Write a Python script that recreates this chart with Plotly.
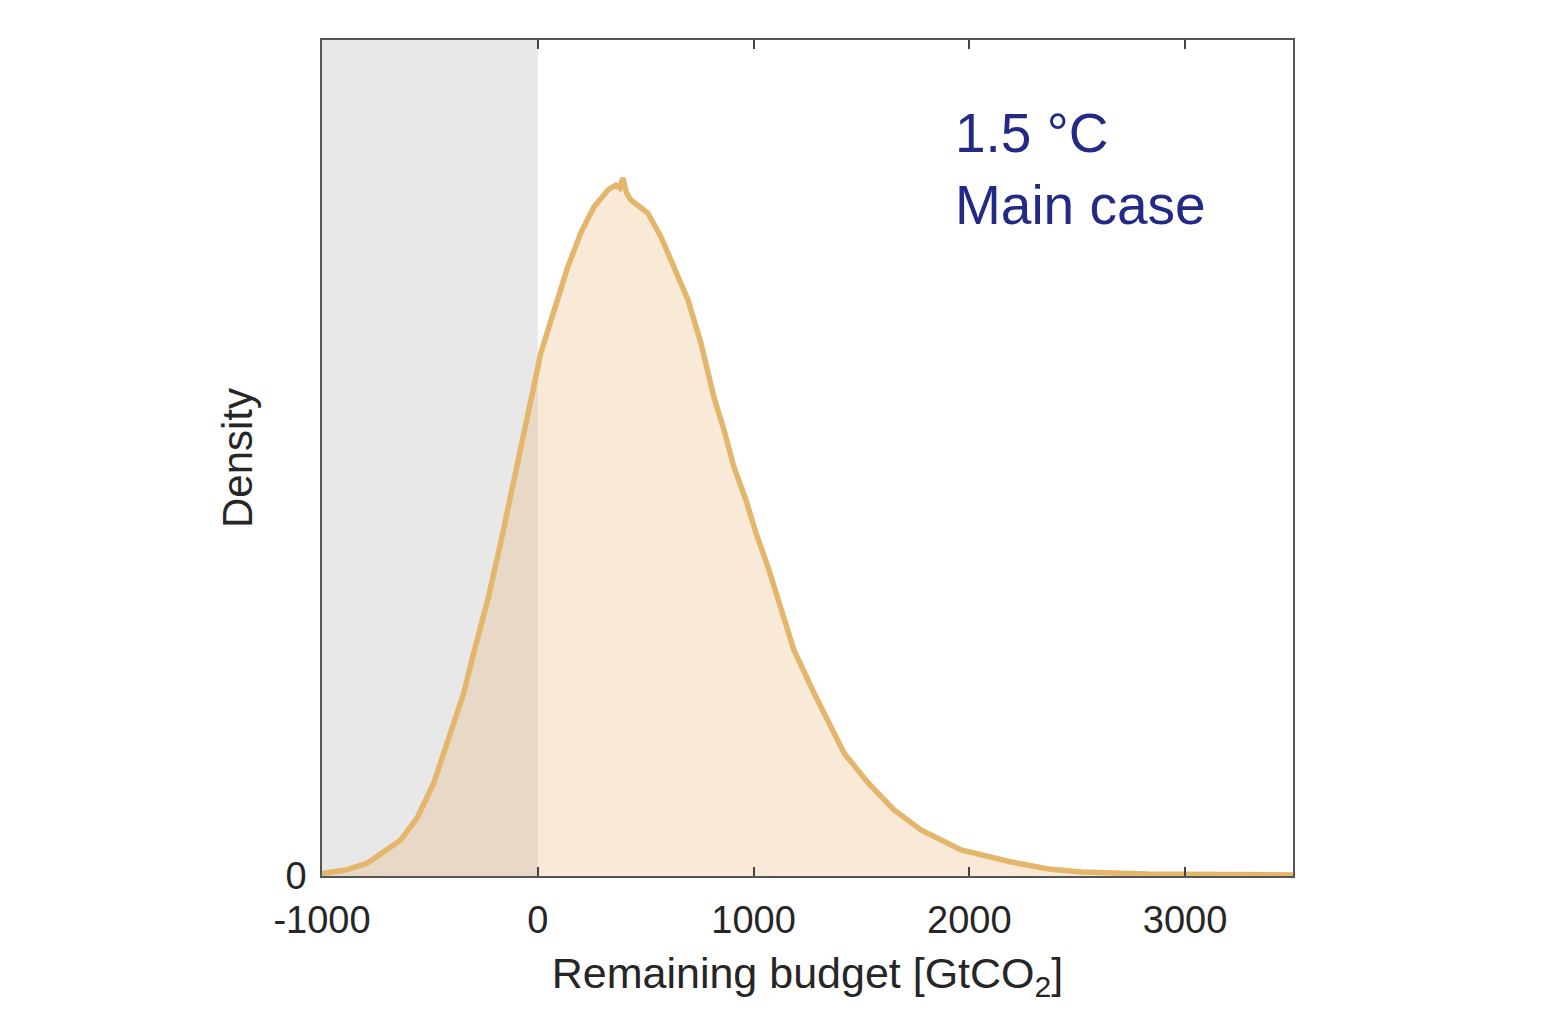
import plotly.graph_objects as go

# Remaining budget [GtCO2] and density (arbitrary units)
budget = [-1000, -983, -891, -789, -635, -557, -482, -404, -343, -297, -232, -172,
          -125, -70, -19, 14, 74, 139, 199, 260, 325, 362, 380, 394, 410, 431, 510,
          571, 631, 696, 756, 816, 863, 909, 965, 1011, 1067, 1113, 1187, 1280, 1373,
          1419, 1531, 1651, 1776, 1962, 2194, 2365, 2519, 2829, 3200, 3446, 3500]
density = [0.002, 0.003, 0.006, 0.013, 0.036, 0.059, 0.093, 0.143, 0.183, 0.223,
           0.276, 0.333, 0.379, 0.436, 0.489, 0.523, 0.566, 0.609, 0.643, 0.669,
           0.686, 0.691, 0.688, 0.698, 0.684, 0.676, 0.663, 0.639, 0.609, 0.576,
           0.533, 0.479, 0.446, 0.409, 0.376, 0.343, 0.309, 0.276, 0.226, 0.183,
           0.143, 0.123, 0.093, 0.066, 0.046, 0.026, 0.014, 0.007, 0.004, 0.002,
           0.0015, 0.001, 0.001]

x_ticks = [-1000, 0, 1000, 2000, 3000]
x_range = [-1000, 3500]
y_range = [0, 0.836]
shade_range = [-1000, 0]

FONT = "Liberation Sans, Arial, Helvetica, sans-serif"
TXT = "#262626"
LINE = "#e3b66c"

fig = go.Figure()
fig.add_trace(go.Scatter(
    x=budget, y=density, mode="lines", fill="tozeroy",
    fillcolor="rgba(233,177,111,0.27)",
    line=dict(color=LINE, width=5.5), hoverinfo="skip", showlegend=False))

fig.add_shape(type="rect", xref="x", yref="y domain", x0=shade_range[0], x1=shade_range[1],
              y0=0, y1=1, fillcolor="#e8e8e8", line=dict(width=0), layer="below")

fig.add_annotation(xref="x", yref="y domain", x=1925, y=0.846, xanchor="left", yanchor="middle",
                   text="1.5 °C<br>Main case", showarrow=False, align="left",
                   font=dict(family=FONT, size=55, color="#222a86"))

fig.update_layout(
    width=1560, height=1014,
    margin=dict(l=322, r=267, t=40, b=138),
    paper_bgcolor="white", plot_bgcolor="white",
    font=dict(family=FONT, color=TXT),
    xaxis=dict(range=x_range, tickvals=x_ticks, ticktext=[str(v) for v in x_ticks],
               ticks="inside", ticklen=9, tickwidth=1.5, tickcolor="#444",
               showline=True, linecolor="#555", linewidth=1.5, mirror="ticks",
               showgrid=False, zeroline=False, ticklabelstandoff=10,
               tickfont=dict(size=38, color=TXT),
               title=dict(text="Remaining budget [GtCO<sub>2</sub>]", standoff=18,
                          font=dict(size=43, color=TXT))),
    yaxis=dict(range=y_range, tickvals=[0], ticktext=["0"], ticks="",
               showline=True, linecolor="#555", linewidth=1.5, mirror=True,
               showgrid=False, zeroline=False, ticklabelstandoff=6,
               tickfont=dict(size=38, color=TXT),
               title=dict(text="Density", standoff=20, font=dict(size=42, color=TXT))),
)

fig.write_html("out.html")
